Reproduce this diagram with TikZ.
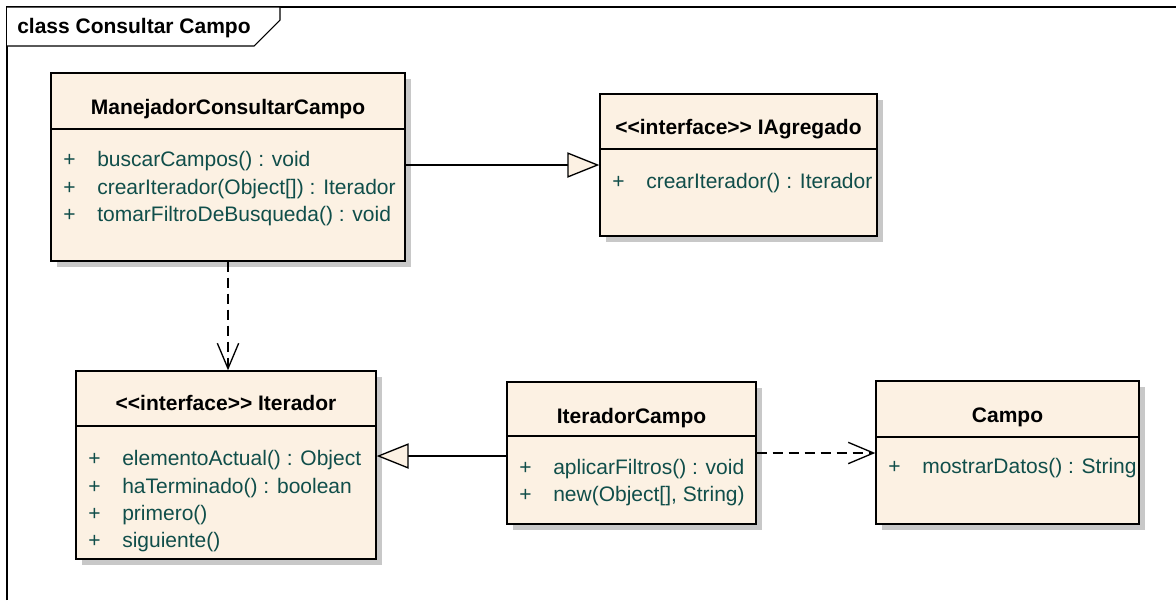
\documentclass[tikz,border=0pt]{standalone}
\usepackage{fontspec}
\setmainfont{Liberation Sans}
\usetikzlibrary{arrows.meta,shadows}
\definecolor{umlfill}{RGB}{252,241,227}
\definecolor{umltext}{RGB}{16,78,74}
\definecolor{umlshadow}{RGB}{200,200,200}
\tikzset{
  umlclass/.style={draw=black, line width=1.1pt, fill=umlfill, inner sep=0pt,
    drop shadow={shadow xshift=4.5pt, shadow yshift=-4.5pt, fill=umlshadow, opacity=1}},
  sepline/.style={line width=1.1pt},
  umltitle/.style={anchor=base, inner sep=0pt, font=\fontsize{15.75}{19}\selectfont\bfseries},
  umlattr/.style={anchor=base west, inner sep=0pt, text=umltext, font=\fontsize{15.75}{19}\selectfont},
  realize/.style={line width=1pt, -{Triangle[fill=umlfill, length=24pt, width=19pt, line width=1pt]}},
  depend/.style={line width=1pt, dash pattern=on 7.5pt off 4.5pt, -{Straight Barb[length=19pt, width=16pt, line width=1pt]}},
}
\newcommand{\attrline}[1]{\makebox[25.5pt][l]{+}#1}
\newcommand{\stereo}[1]{<\kern0pt<#1>\kern0pt>}

\begin{document}
\begin{tikzpicture}[x=0.75pt,y=0.75pt,yscale=-1,xscale=1]
\useasboundingbox (0,0) rectangle (1176,600);

%Frame
\draw [line width=0.8pt] (7,600) -- (7,7) -- (1176,7) ;
\draw [line width=0.8pt, fill=white] (7,7) -- (280,7) -- (280,20) -- (254,46) -- (7,46) ;
% Text Node
\node [anchor=base west, inner sep=0pt, font=\fontsize{15.75}{19}\selectfont\bfseries] (frametitle) at (17,33) {class Consultar Campo};

%Shape: Class ManejadorConsultarCampo
\node [umlclass, minimum width=265.5pt, minimum height=141pt] (mcc) at (228,167) {};
\draw [sepline] (mcc.west |- 0,129) -- (mcc.east |- 0,129) ;
\node [umltitle] (mcctitle) at (228,114) {ManejadorConsultarCampo};
\node [umlattr] (mcca) at (63,166) {\attrline{buscarCampos() : void}};
\node [umlattr] (mccb) at (63,194) {\attrline{crearIterador(Object[]) : Iterador}};
\node [umlattr] (mccc) at (63,221) {\attrline{tomarFiltroDeBusqueda() : void}};

%Shape: Class IAgregado
\node [umlclass, minimum width=207.75pt, minimum height=106.5pt] (iag) at (738.5,165) {};
\draw [sepline] (iag.west |- 0,149) -- (iag.east |- 0,149) ;
\node [umltitle] (iagtitle) at (738.5,134) {\stereo{interface} IAgregado};
\node [umlattr] (iaga) at (612,188) {\attrline{crearIterador() : Iterador}};

%Shape: Class Iterador
\node [umlclass, minimum width=225pt, minimum height=141pt] (ite) at (226,465) {};
\draw [sepline] (ite.west |- 0,426) -- (ite.east |- 0,426) ;
\node [umltitle] (itetitle) at (226,410) {\stereo{interface} Iterador};
\node [umlattr] (itea) at (88,465) {\attrline{elementoActual() : Object}};
\node [umlattr] (iteb) at (88,493) {\attrline{haTerminado() : boolean}};
\node [umlattr] (itec) at (88,520) {\attrline{primero()}};
\node [umlattr] (ited) at (88,547) {\attrline{siguiente()}};

%Shape: Class IteradorCampo
\node [umlclass, minimum width=186.75pt, minimum height=106.5pt] (itc) at (631.5,453) {};
\draw [sepline] (itc.west |- 0,436) -- (itc.east |- 0,436) ;
\node [umltitle] (itctitle) at (631.5,423) {IteradorCampo};
\node [umlattr] (itca) at (519,474) {\attrline{aplicarFiltros() : void}};
\node [umlattr] (itcb) at (519,501) {\attrline{new(Object[], String)}};

%Shape: Class Campo
\node [umlclass, minimum width=197.25pt, minimum height=107.25pt] (cam) at (1007.5,452.5) {};
\draw [sepline] (cam.west |- 0,437) -- (cam.east |- 0,437) ;
\node [umltitle] (camtitle) at (1007.5,422) {Campo};
\node [umlattr] (cama) at (888,473) {\attrline{mostrarDatos() : String}};

%Connectors
\draw [realize] (iag.west -| mcc.east) -- (iag.west) ;
\draw [depend] (mcc.south) -- (mcc.south |- ite.north) ;
\draw [realize] (itc.west |- 0,456) -- (ite.east |- 0,456) ;
\draw [depend] (itc.east |- 0,453) -- (cam.west |- 0,453) ;

\end{tikzpicture}
\end{document}
